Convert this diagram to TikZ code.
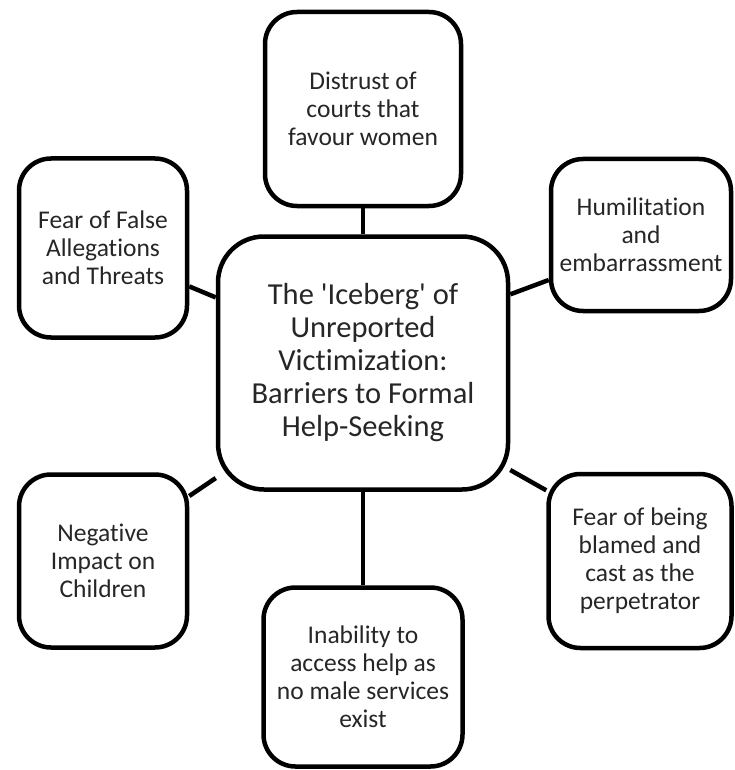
\documentclass[tikz,border=0pt]{standalone}
\usepackage{fontspec}
\setmainfont{Carlito}[Ligatures={NoCommon}]
\definecolor{txt}{HTML}{262626}
\newcommand{\sq}{\textquotesingle}
\begin{document}
\begin{tikzpicture}[x=1pt,y=-1pt,
  box/.style={draw=black, line width=4.5pt, rounded corners=32pt, fill=white,
    align=center, text=txt, inner sep=0pt,
    font=\fontsize{25.5}{28}\selectfont},
  hub/.style={box, rounded corners=46pt, font=\fontsize{30.5}{33}\selectfont},
  link/.style={draw=black, line width=4.5pt}]
\useasboundingbox (0,0) rectangle (735,770);
\node[hub, minimum width=290pt, minimum height=253pt] (c) at (363,363)
  {The \sq Iceberg\sq{} of\\Unreported\\Victimization:\\Barriers to Formal\\Help-Seeking};
\node[box, minimum width=196pt, minimum height=194pt] (t) at (363,109)
  {Distrust of\\courts that\\favour women};
\node[box, minimum width=168pt, minimum height=179pt] (tl) at (103,248)
  {Fear of False\\Allegations\\and Threats};
\node[box, minimum width=180pt, minimum height=152pt] (tr) at (641,235)
  {Humilitation\\and\\embarrassment};
\node[box, minimum width=168pt, minimum height=173pt] (bl) at (103,561)
  {Negative\\Impact on\\Children};
\node[box, minimum width=183pt, minimum height=174pt] (br) at (640,561)
  {Fear of being\\blamed and\\cast as the\\perpetrator};
\node[box, minimum width=199pt, minimum height=179pt] (b) at (363,677)
  {Inability to\\access help as\\no male services\\exist};
\draw[link] (t.south) -- (c.north);
\draw[link] (c.south) -- (b.north);
\draw[link] (tl.-24) -- (c.156);
\draw[link] (c.25) -- (tr.-154);
\draw[link] (bl.37) -- (c.-142);
\draw[link] (c.-36) -- (br.143);
\end{tikzpicture}
\end{document}
